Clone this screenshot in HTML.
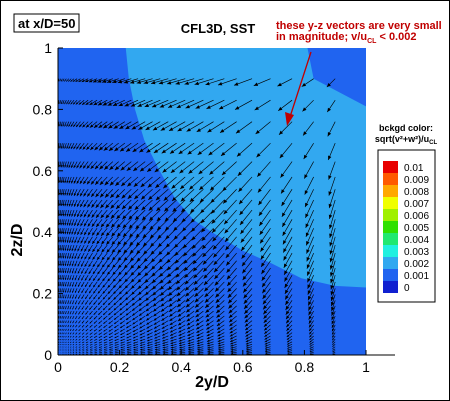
<!DOCTYPE html>
<html><head><meta charset="utf-8"><style>
body{margin:0;background:#fff}
svg{display:block;font-family:"Liberation Sans",Arial,sans-serif}
</style></head><body>
<svg id="chart" width="450" height="401" viewBox="0 0 450 401">
<rect x="0.5" y="0.5" width="449" height="400" fill="#fff" stroke="#000"/>
<rect x="14" y="14" width="65" height="18" fill="#fff" stroke="#000"/>
<text x="18" y="28" font-size="13" font-weight="bold">at x/D=50</text>
<text x="218" y="33" font-size="13" font-weight="bold" text-anchor="middle">CFL3D, SST</text>
<text x="276" y="29" font-size="11" font-weight="bold" fill="#c00000">these y-z vectors are very small</text>
<text x="276" y="40" font-size="11" font-weight="bold" fill="#c00000">in magnitude; v/u<tspan font-size="7" dy="3">CL</tspan><tspan dy="-3"> &lt; 0.002</tspan></text>
<g id="plot"></g>
<line x1="311" y1="52" x2="289" y2="120" stroke="#c00000" stroke-width="1.3"/>
<polygon points="287,126 285,112 294,115" fill="#c00000"/>
<text x="22" y="240" font-size="16" font-weight="bold" text-anchor="middle" transform="rotate(-90 22 240)">2z/D</text>
<text x="212" y="387" font-size="16" font-weight="bold" text-anchor="middle">2y/D</text>
<text x="406" y="131" font-size="9" font-weight="bold" text-anchor="middle">bckgd color:</text>
<text x="406" y="142" font-size="9" font-weight="bold" text-anchor="middle">sqrt(v²+w²)/u<tspan font-size="6" dy="2">CL</tspan></text>
<rect x="378" y="150" width="57" height="152" fill="#fff" stroke="#000"/>
<g id="legend"></g>
</svg>
<script>
const levelLabels=["0.01","0.009","0.008","0.007","0.006","0.005","0.004","0.003","0.002","0.001","0"];
const levelColors=["#e80000","#ff5a00","#ffa800","#f0ff00","#a0f000","#30e000","#20e870","#20f0e0","#30a8f0","#2064f0","#1020d0"];
const xTicks=[0,0.2,0.4,0.6,0.8,1];
const yTicks=[0,0.2,0.4,0.6,0.8,1];
const yStations=[0.003,0.008,0.014,0.02,0.027,0.035,0.043,0.052,0.062,0.073,0.085,0.098,0.112,0.127,0.143,0.16,0.178,0.197,0.217,0.238,0.26,0.283,0.307,0.332,0.358,0.385,0.413,0.442,0.472,0.505,0.54,0.58,0.63,0.69,0.76,0.83,0.9];
const zStations=[0.003,0.008,0.014,0.02,0.027,0.035,0.043,0.052,0.062,0.073,0.085,0.098,0.112,0.127,0.143,0.16,0.178,0.197,0.217,0.238,0.26,0.283,0.307,0.332,0.358,0.385,0.413,0.442,0.472,0.505,0.54,0.58,0.63,0.69,0.76,0.83,0.9];
const lightRegion=[[0.22,1],[0.23,0.9],[0.25,0.8],[0.28,0.7],[0.33,0.6],[0.38,0.51],[0.44,0.44],[0.5,0.4],[0.6,0.34],[0.69,0.3],[0.79,0.25],[0.9,0.225],[1,0.22],[1,0.81],[0.83,0.9],[0.81,1]];
const NS="http://www.w3.org/2000/svg";
const X=v=>58+308*v, Y=v=>355-307*v;
const plot=document.getElementById('plot');
function mk(tag,attrs,parent){const e=document.createElementNS(NS,tag);for(const k in attrs)e.setAttribute(k,attrs[k]);(parent||plot).appendChild(e);return e;}
let bg=mk('rect',{x:X(0),y:Y(1),width:X(1)-X(0),height:Y(0)-Y(1),fill:'#2064f0'});


let lr=mk('polygon',{points:lightRegion.map(p=>X(p[0])+','+Y(p[1])).join(' '),fill:'#32a8f0'});


const vg=mk('g',{stroke:'#000','stroke-width':0.65,fill:'#000'});


for(const y of yStations){for(const z of zStations){
  let vy=-y*(1.03-y)*(0.4+z), vz=-z*(1.03-z)*(0.4+y);
  const k=55;let dx=vy*k, dy=-vz*k;
  const x0=X(y),y0=Y(z),x1=x0+dx,y1=y0+dy;
  const L=Math.hypot(dx,dy);
  const ar=mk('path',{d:`M${x0},${y0}L${x1},${y1}`},vg);
  
  
  if(L>2){const ux=dx/L,uy=dy/L,h=Math.min(4,L*0.35);
    const hd=mk('polygon',{points:`${x1},${y1} ${x1-ux*h-uy*h*0.45},${y1-uy*h+ux*h*0.45} ${x1-ux*h+uy*h*0.45},${y1-uy*h-ux*h*0.45}`,stroke:'none'},vg);
    
    }
}}
const ax=mk('g',{stroke:'#000','stroke-width':1});


mk('line',{x1:X(0),y1:Y(0),x2:395,y2:Y(0)},ax);
mk('line',{x1:X(0),y1:Y(0),x2:X(0),y2:Y(1)},ax);
for(const t of xTicks){
  mk('line',{x1:X(t),y1:Y(0),x2:X(t),y2:Y(0)-5},ax);
  const tx=mk('text',{x:X(t),y:372,'font-size':14,'text-anchor':'middle',stroke:'none'});tx.textContent=t;
  
  
}
for(const t of yTicks){
  mk('line',{x1:X(0),y1:Y(t),x2:X(0)+5,y2:Y(t)},ax);
  const tx=mk('text',{x:52,y:Y(t)+5,'font-size':14,'text-anchor':'end',stroke:'none'});tx.textContent=t;
  
  
}
const lg=document.getElementById('legend');
levelColors.forEach((c,i)=>{
  const y=161+i*12;
  const r=mk('rect',{x:383,y:y,width:15,height:12,fill:c},lg);
  
  
  const t=mk('text',{x:404,y:y+10,'font-size':10},lg);t.textContent=levelLabels[i];
  
  
});
</script>
</body></html>
